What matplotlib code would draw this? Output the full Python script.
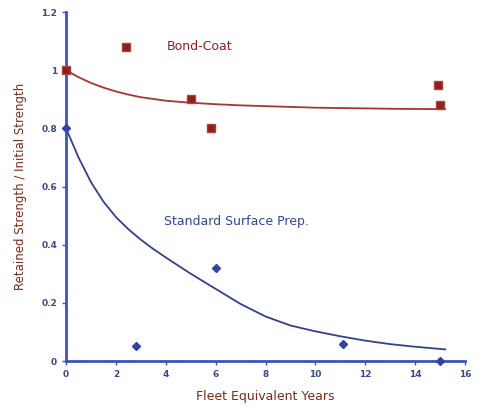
import matplotlib
matplotlib.use("Agg")
import matplotlib.pyplot as plt

# measured points
bond_x = [0, 2.4, 5.0, 5.8, 14.9, 15.0]
bond_y = [1.0, 1.08, 0.90, 0.80, 0.95, 0.88]
std_x = [0, 2.8, 6.0, 11.1, 15.0]
std_y = [0.8, 0.05, 0.32, 0.06, 0.0]

# trend curves
bond_fit_x = [0, 0.5, 1.0, 1.5, 2.0, 2.5, 3.0, 4.0, 5.0, 6.0, 7.0, 8.5, 10.0, 11.7, 13.3, 15.2]
bond_fit_y = [1.0, 0.976, 0.956, 0.940, 0.927, 0.916, 0.907, 0.895, 0.888, 0.883, 0.879,
              0.875, 0.871, 0.869, 0.867, 0.866]
std_fit_x = [0, 0.5, 1.0, 1.5, 2.0, 2.5, 3.0, 3.5, 4.0, 5.0, 6.0, 7.0, 8.0, 9.0,
             10.0, 11.0, 12.0, 13.0, 14.0, 15.2]
std_fit_y = [0.80, 0.70, 0.615, 0.548, 0.495, 0.453, 0.417, 0.385, 0.356, 0.300, 0.248,
             0.196, 0.153, 0.122, 0.102, 0.085, 0.070, 0.058, 0.049, 0.040]

x_ticks = [0, 2, 4, 6, 8, 10, 12, 14, 16]
y_ticks = [0, 0.2, 0.4, 0.6, 0.8, 1.0, 1.2]
y_labels = ["0", "0.2", "0.4", "0.6", "0.8", "1", "1.2"]

red = "#8e1f1f"
blue = "#3344a0"
axis_blue = "#3a55b8"
tick_col = "#3b4a8a"

fig = plt.figure(figsize=(4.82, 4.07), dpi=100)
ax = fig.add_axes([0.137, 0.113, 0.828, 0.8575])

ax.plot(bond_fit_x, bond_fit_y, color="#a83434", lw=1.3, zorder=2)
ax.plot(std_fit_x, std_fit_y, color="#34408f", lw=1.3, zorder=2)
ax.plot(bond_x, bond_y, "s", color=red, mec="#b04040", ms=5.5, zorder=3, clip_on=False)
ax.plot(std_x, std_y, "D", color=blue, mec=blue, ms=4.5, zorder=3, clip_on=False)

ax.text(5.35, 1.08, "Bond-Coat", color=red, fontsize=9, ha="center", va="center")
ax.text(6.85, 0.478, "Standard Surface Prep.", color=blue, fontsize=9, ha="center", va="center")

ax.set_xlim(0, 16)
ax.set_ylim(0, 1.2)
ax.set_xticks(x_ticks)
ax.set_xticklabels([str(t) for t in x_ticks])
ax.set_yticks(y_ticks)
ax.set_yticklabels(y_labels)

for side in ["top", "right"]:
    ax.spines[side].set_visible(False)
for side in ["left", "bottom"]:
    ax.spines[side].set_color(axis_blue)
    ax.spines[side].set_linewidth(2)

ax.tick_params(colors=axis_blue, labelcolor=tick_col, labelsize=6.5, length=3, width=1)
for lab in ax.get_xticklabels() + ax.get_yticklabels():
    lab.set_fontweight("bold")

ax.set_xlabel("Fleet Equivalent Years", color="#7a2a1a", fontsize=9, labelpad=8)
ax.set_ylabel("Retained Strength / Initial Strength", color="#7a2a1a", fontsize=8.5, labelpad=10)

fig.savefig("out.png", dpi=100)
